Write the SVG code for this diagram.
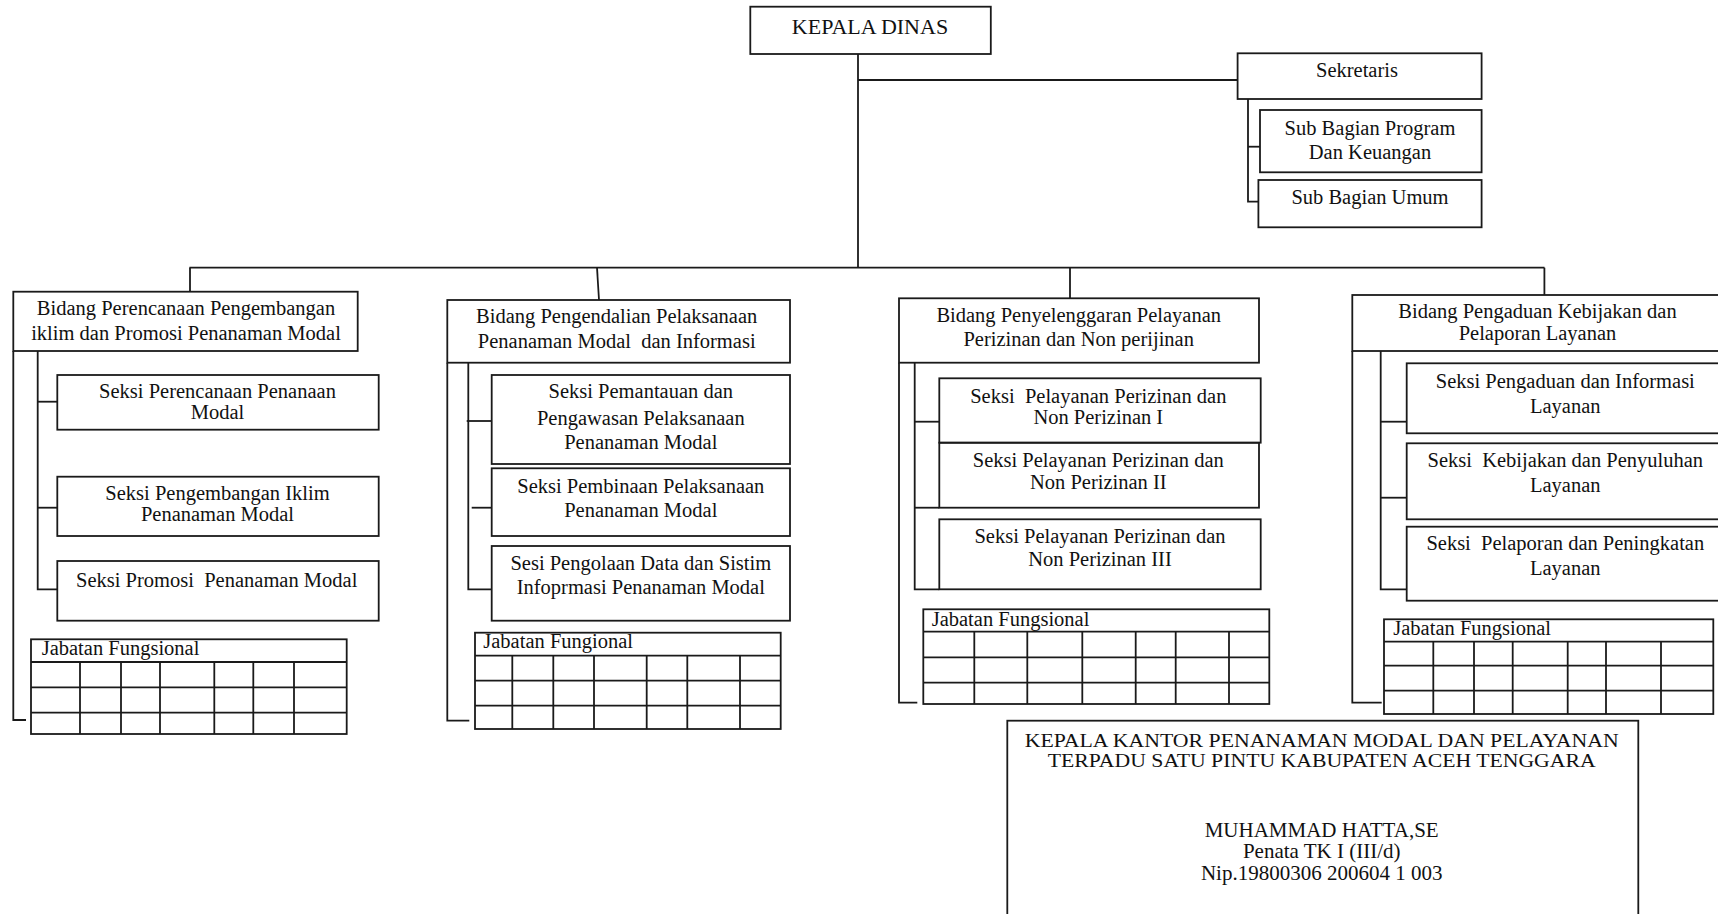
<svg xmlns="http://www.w3.org/2000/svg" width="1718" height="914" viewBox="0 0 1718 914">
<style>
rect, line, polyline, path { fill: none; stroke: #1a1a1a; stroke-width: 1.8; }
rect.bg { fill: #ffffff; stroke: none; }
text { font-family: "Liberation Serif", "Times New Roman", serif; font-size: 20.5px; fill: #111; }
.c { text-anchor: middle; }
.big { font-size: 22px; }
.kt { font-size: 21px; }
.kh { font-size: 19px; }
</style>
<rect class="bg" x="0" y="0" width="1718" height="914"/>

<g id="connectors">
  <line x1="858" y1="54" x2="858" y2="268"/>
  <line x1="858" y1="80" x2="1238" y2="80"/>
  <polyline points="1248,99 1248,201.7 1258.4,201.7"/>
  <line x1="1248" y1="146.7" x2="1260" y2="146.7"/>
  <line x1="189.4" y1="267.7" x2="1544.5" y2="267.7"/>
  <line x1="190" y1="267.7" x2="190" y2="291.7"/>
  <line x1="597" y1="267.7" x2="599" y2="300"/>
  <line x1="1070" y1="267.7" x2="1070" y2="298.3"/>
  <line x1="1544.4" y1="267.7" x2="1544.4" y2="295"/>
  <!-- bidang 1 -->
  <polyline points="13.3,351 13.3,720 26,720"/>
  <polyline points="37.7,351 37.7,589.3 57.3,589.3"/>
  <line x1="37.7" y1="401.7" x2="57.3" y2="401.7"/>
  <line x1="37.7" y1="507.7" x2="57.3" y2="507.7"/>
  <!-- bidang 2 -->
  <polyline points="447.3,362.7 447.3,720.7 469.3,720.7"/>
  <polyline points="468.3,362.7 468.3,589.3 491.7,589.3"/>
  <line x1="466.7" y1="421" x2="491.7" y2="421"/>
  <line x1="471.7" y1="507.7" x2="491.7" y2="507.7"/>
  <!-- bidang 3 -->
  <polyline points="899,362.7 899,702.7 917.3,702.7"/>
  <polyline points="914.7,362.7 914.7,589.3 939.3,589.3"/>
  <line x1="914.7" y1="421.7" x2="939.3" y2="421.7"/>
  <line x1="914.7" y1="507.7" x2="939.3" y2="507.7"/>
  <!-- bidang 4 -->
  <polyline points="1352.3,351 1352.3,702.7 1381.7,702.7"/>
  <polyline points="1380.7,351 1380.7,589.3 1406.7,589.3"/>
  <line x1="1380.7" y1="421.7" x2="1406.7" y2="421.7"/>
  <line x1="1380.7" y1="497.7" x2="1406.7" y2="497.7"/>
</g>

<g id="kepala-dinas">
  <rect x="750.3" y="6.7" width="240.5" height="47.3"/>
  <text class="c big" x="870" y="33.5">KEPALA DINAS</text>
</g>

<g id="sekretaris">
  <rect x="1237.6" y="53.3" width="244" height="45.7"/>
  <text class="c" x="1357" y="77">Sekretaris</text>
</g>
<g id="sub-program">
  <rect x="1260" y="110" width="221.6" height="62.3"/>
  <text class="c" x="1370" y="135">Sub Bagian Program</text>
  <text class="c" x="1370" y="159.3">Dan Keuangan</text>
</g>
<g id="sub-umum">
  <rect x="1258.4" y="180" width="223.2" height="47.3"/>
  <text class="c" x="1370" y="204">Sub Bagian Umum</text>
</g>

<!-- Bidang 1 -->
<g id="bidang1">
  <rect x="13.3" y="291.7" width="344.4" height="59.3"/>
  <text class="c" x="186" y="315">Bidang Perencanaan Pengembangan</text>
  <text class="c" x="186" y="340">iklim dan Promosi Penanaman Modal</text>
</g>
<g id="b1-seksi1">
  <rect x="57.3" y="375" width="321.4" height="54.7"/>
  <text class="c" x="217.5" y="398.3">Seksi Perencanaan Penanaan</text>
  <text class="c" x="217.5" y="419.3">Modal</text>
</g>
<g id="b1-seksi2">
  <rect x="57.3" y="476.7" width="321.4" height="59.3"/>
  <text class="c" x="217.5" y="500">Seksi Pengembangan Iklim</text>
  <text class="c" x="217.5" y="520.7">Penanaman Modal</text>
</g>
<g id="b1-seksi3">
  <rect x="57.3" y="561" width="321.4" height="59.7"/>
  <text class="c" x="216.7" y="587.3" xml:space="preserve">Seksi Promosi  Penanaman Modal</text>
</g>
<g id="b1-jabatan">
  <rect x="31" y="639.3" width="315.7" height="94.7"/>
  <line x1="31" y1="662" x2="346.7" y2="662"/>
  <line x1="31" y1="687.3" x2="346.7" y2="687.3"/>
  <line x1="31" y1="712.7" x2="346.7" y2="712.7"/>
  <line x1="80" y1="662" x2="80" y2="734"/>
  <line x1="121" y1="662" x2="121" y2="734"/>
  <line x1="160" y1="662" x2="160" y2="734"/>
  <line x1="214.3" y1="662" x2="214.3" y2="734"/>
  <line x1="253.3" y1="662" x2="253.3" y2="734"/>
  <line x1="294" y1="662" x2="294" y2="734"/>
  <text x="41.7" y="655">Jabatan Fungsional</text>
</g>

<!-- Bidang 2 -->
<g id="bidang2">
  <rect x="447.3" y="300" width="342.7" height="62.7"/>
  <text class="c" x="616.7" y="323.3">Bidang Pengendalian Pelaksanaan</text>
  <text class="c" x="616.7" y="348.3" xml:space="preserve">Penanaman Modal  dan Informasi</text>
</g>
<g id="b2-seksi1">
  <rect x="491.7" y="375" width="298.3" height="89"/>
  <text class="c" x="640.8" y="398.3">Seksi Pemantauan dan</text>
  <text class="c" x="640.8" y="424.5">Pengawasan Pelaksanaan</text>
  <text class="c" x="640.8" y="449.3">Penanaman Modal</text>
</g>
<g id="b2-seksi2">
  <rect x="491.7" y="468.3" width="298.3" height="67.7"/>
  <text class="c" x="640.8" y="492.7">Seksi Pembinaan Pelaksanaan</text>
  <text class="c" x="640.8" y="517.3">Penanaman Modal</text>
</g>
<g id="b2-seksi3">
  <rect x="491.7" y="546" width="298.3" height="74.7"/>
  <text class="c" x="640.8" y="570">Sesi Pengolaan Data dan Sistim</text>
  <text class="c" x="640.8" y="594.3">Infoprmasi Penanaman Modal</text>
</g>
<g id="b2-jabatan">
  <rect x="475" y="632.7" width="305.7" height="96.3"/>
  <line x1="475" y1="655.7" x2="780.7" y2="655.7"/>
  <line x1="475" y1="680.7" x2="780.7" y2="680.7"/>
  <line x1="475" y1="705.7" x2="780.7" y2="705.7"/>
  <line x1="512.3" y1="655.7" x2="512.3" y2="729"/>
  <line x1="553.3" y1="655.7" x2="553.3" y2="729"/>
  <line x1="594" y1="655.7" x2="594" y2="729"/>
  <line x1="646.7" y1="655.7" x2="646.7" y2="729"/>
  <line x1="687.3" y1="655.7" x2="687.3" y2="729"/>
  <line x1="740" y1="655.7" x2="740" y2="729"/>
  <text x="483.3" y="648.3">Jabatan Fungional</text>
</g>

<!-- Bidang 3 -->
<g id="bidang3">
  <rect x="899" y="298.3" width="360" height="64.4"/>
  <text class="c" x="1078.7" y="321.7">Bidang Penyelenggaran Pelayanan</text>
  <text class="c" x="1078.7" y="346">Perizinan dan Non perijinan</text>
</g>
<g id="b3-seksi1">
  <rect x="939.3" y="378.3" width="321.4" height="64.4"/>
  <text class="c" x="1098.3" y="403.3" xml:space="preserve">Seksi  Pelayanan Perizinan dan</text>
  <text class="c" x="1098.3" y="424.3">Non Perizinan I</text>
</g>
<g id="b3-seksi2">
  <rect x="939.3" y="442.7" width="319.7" height="65"/>
  <text class="c" x="1098.3" y="466.7">Seksi Pelayanan Perizinan dan</text>
  <text class="c" x="1098.3" y="489.3">Non Perizinan II</text>
</g>
<g id="b3-seksi3">
  <rect x="939.3" y="519.3" width="321.4" height="70"/>
  <text class="c" x="1100" y="543.3">Seksi Pelayanan Perizinan dan</text>
  <text class="c" x="1100" y="566">Non Perizinan III</text>
</g>
<g id="b3-jabatan">
  <rect x="923.3" y="609.3" width="346" height="94.7"/>
  <line x1="923.3" y1="631.7" x2="1269.3" y2="631.7"/>
  <line x1="923.3" y1="657.3" x2="1269.3" y2="657.3"/>
  <line x1="923.3" y1="682.7" x2="1269.3" y2="682.7"/>
  <line x1="974.3" y1="631.7" x2="974.3" y2="704"/>
  <line x1="1027.3" y1="631.7" x2="1027.3" y2="704"/>
  <line x1="1082.3" y1="631.7" x2="1082.3" y2="704"/>
  <line x1="1135.7" y1="631.7" x2="1135.7" y2="704"/>
  <line x1="1175.7" y1="631.7" x2="1175.7" y2="704"/>
  <line x1="1229" y1="631.7" x2="1229" y2="704"/>
  <text x="931.7" y="626">Jabatan Fungsional</text>
</g>

<!-- Bidang 4 -->
<g id="bidang4">
  <rect x="1352.3" y="295" width="380" height="56"/>
  <text class="c" x="1537.5" y="318.3">Bidang Pengaduan Kebijakan dan</text>
  <text class="c" x="1537.5" y="340">Pelaporan Layanan</text>
</g>
<g id="b4-seksi1">
  <rect x="1406.7" y="363.3" width="330" height="70"/>
  <text class="c" x="1565.3" y="388.3">Seksi Pengaduan dan Informasi</text>
  <text class="c" x="1565.3" y="413.3">Layanan</text>
</g>
<g id="b4-seksi2">
  <rect x="1406.7" y="443.3" width="330" height="76"/>
  <text class="c" x="1565.3" y="466.7" xml:space="preserve">Seksi  Kebijakan dan Penyuluhan</text>
  <text class="c" x="1565.3" y="491.7">Layanan</text>
</g>
<g id="b4-seksi3">
  <rect x="1406.7" y="526.7" width="330" height="74"/>
  <text class="c" x="1565.3" y="550" xml:space="preserve">Seksi  Pelaporan dan Peningkatan</text>
  <text class="c" x="1565.3" y="575">Layanan</text>
</g>
<g id="b4-jabatan">
  <rect x="1384" y="619.3" width="329.3" height="94.7"/>
  <line x1="1384" y1="641.7" x2="1713.3" y2="641.7"/>
  <line x1="1384" y1="665.7" x2="1713.3" y2="665.7"/>
  <line x1="1384" y1="690.7" x2="1713.3" y2="690.7"/>
  <line x1="1433.3" y1="641.7" x2="1433.3" y2="714"/>
  <line x1="1474" y1="641.7" x2="1474" y2="714"/>
  <line x1="1512.7" y1="641.7" x2="1512.7" y2="714"/>
  <line x1="1567.7" y1="641.7" x2="1567.7" y2="714"/>
  <line x1="1606" y1="641.7" x2="1606" y2="714"/>
  <line x1="1661" y1="641.7" x2="1661" y2="714"/>
  <text x="1393.3" y="635">Jabatan Fungsional</text>
</g>

<!-- Signature block -->
<g id="kepala-kantor">
  <rect x="1007.3" y="720.7" width="631" height="210"/>
  <text class="c kh" x="1321.7" y="746.7" textLength="594" lengthAdjust="spacingAndGlyphs">KEPALA KANTOR PENANAMAN MODAL DAN PELAYANAN</text>
  <text class="c kh" x="1321.7" y="767" textLength="548" lengthAdjust="spacingAndGlyphs">TERPADU SATU PINTU KABUPATEN ACEH TENGGARA</text>
  <text class="c kt" x="1321.7" y="836.7">MUHAMMAD HATTA,SE</text>
  <text class="c kt" x="1321.7" y="858.3">Penata TK I (III/d)</text>
  <text class="c kt" x="1321.7" y="880">Nip.19800306 200604 1 003</text>
</g>
</svg>
